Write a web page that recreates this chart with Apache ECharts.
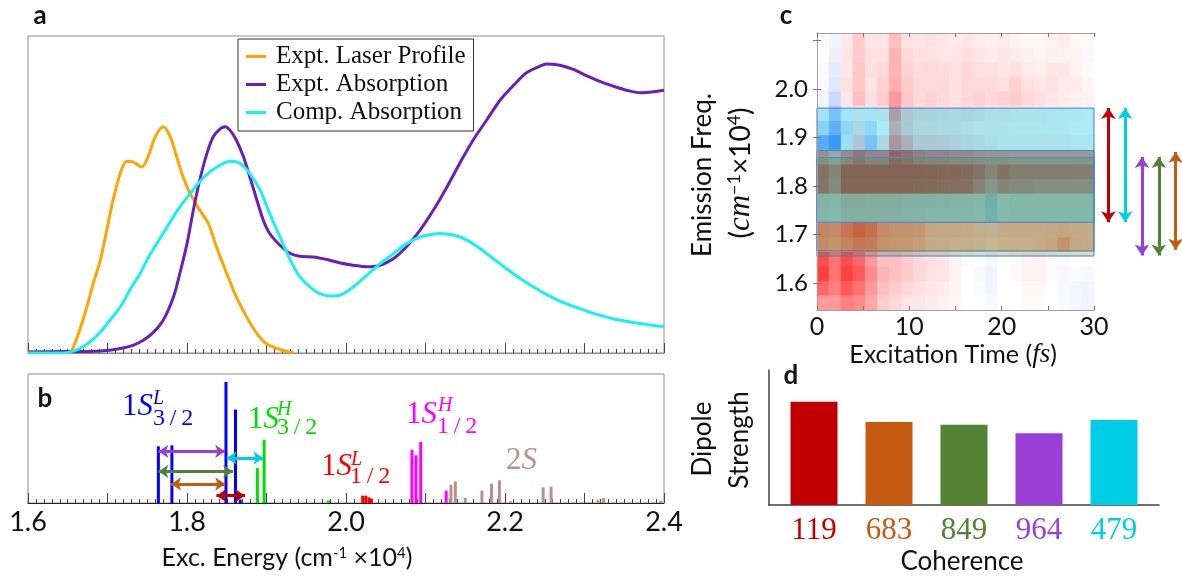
<!DOCTYPE html>
<html>
<head>
<meta charset="utf-8">
<title>Absorption, stick spectrum and coherence maps</title>
<script src="https://cdn.jsdelivr.net/npm/echarts@6.0.0/dist/echarts.min.js"></script>
<style>
html, body { margin: 0; padding: 0; background: #fff; }
#chart { width: 1182px; height: 578px; }
</style>
</head>
<body>
<div id="chart"></div>
<script>
// ---- panel a : spectra (energy in 1e4 cm-1, normalised intensity) ----
var laserE = [1.600, 1.650, 1.655, 1.665, 1.674, 1.682, 1.691, 1.699, 1.707, 1.716, 1.724, 1.732, 1.743, 1.751, 1.760, 1.770, 1.779, 1.787, 1.795, 1.804, 1.816, 1.827, 1.837, 1.850, 1.862, 1.875, 1.888, 1.900, 1.917, 1.934];
var laserI = [0.003, 0.003, 0.008, 0.072, 0.145, 0.219, 0.293, 0.387, 0.482, 0.566, 0.605, 0.603, 0.587, 0.619, 0.682, 0.714, 0.682, 0.619, 0.556, 0.503, 0.451, 0.408, 0.335, 0.251, 0.177, 0.114, 0.061, 0.029, 0.011, 0.000];

var absE = [1.600, 1.649, 1.674, 1.699, 1.716, 1.732, 1.745, 1.758, 1.770, 1.783, 1.791, 1.800, 1.808, 1.816, 1.825, 1.833, 1.842, 1.848, 1.854, 1.862, 1.871, 1.879, 1.888, 1.896, 1.904, 1.917, 1.930, 1.942, 1.959, 1.976, 1.993, 2.009, 2.026, 2.043, 2.060, 2.076, 2.093, 2.110, 2.127, 2.143, 2.160, 2.177, 2.194, 2.211, 2.227, 2.244, 2.252, 2.269, 2.286, 2.303, 2.320, 2.336, 2.353, 2.370, 2.387, 2.400];
var absI = [0.003, 0.005, 0.005, 0.008, 0.014, 0.024, 0.040, 0.066, 0.103, 0.177, 0.251, 0.345, 0.451, 0.545, 0.629, 0.682, 0.708, 0.714, 0.703, 0.672, 0.619, 0.556, 0.482, 0.419, 0.377, 0.340, 0.314, 0.305, 0.303, 0.295, 0.284, 0.277, 0.272, 0.277, 0.298, 0.335, 0.387, 0.451, 0.524, 0.598, 0.672, 0.735, 0.798, 0.845, 0.884, 0.905, 0.912, 0.908, 0.895, 0.874, 0.856, 0.842, 0.829, 0.821, 0.824, 0.829];

var compE = [1.600, 1.645, 1.653, 1.665, 1.678, 1.691, 1.703, 1.716, 1.728, 1.741, 1.753, 1.766, 1.779, 1.791, 1.804, 1.816, 1.829, 1.842, 1.854, 1.867, 1.879, 1.892, 1.904, 1.917, 1.930, 1.942, 1.955, 1.967, 1.980, 1.993, 2.009, 2.026, 2.043, 2.060, 2.076, 2.093, 2.110, 2.118, 2.135, 2.152, 2.169, 2.185, 2.202, 2.219, 2.236, 2.252, 2.269, 2.286, 2.303, 2.320, 2.336, 2.353, 2.370, 2.387, 2.400];
var compI = [0.000, 0.000, 0.003, 0.014, 0.035, 0.066, 0.103, 0.145, 0.198, 0.251, 0.308, 0.361, 0.414, 0.461, 0.503, 0.540, 0.572, 0.593, 0.605, 0.598, 0.566, 0.514, 0.440, 0.366, 0.293, 0.240, 0.208, 0.187, 0.180, 0.183, 0.208, 0.245, 0.282, 0.314, 0.345, 0.366, 0.375, 0.377, 0.372, 0.356, 0.329, 0.298, 0.266, 0.235, 0.208, 0.185, 0.164, 0.147, 0.132, 0.119, 0.108, 0.100, 0.093, 0.087, 0.084];

// ---- panel b : transitions [energy, dipole] ----
var sticks1S32L = [[1.764, 0.439], [1.781, 0.447], [1.849, 0.938], [1.861, 0.724], [1.867, 0.026]];
var sticks1S32H = [[1.8885, 0.271], [1.897, 0.491], [1.978, 0.020]];
var sticks1S12L = [[2.021, 0.057], [2.025, 0.057], [2.029, 0.044], [2.032, 0.034]];
var sticks1S12H = [[2.083, 0.413], [2.088, 0.370], [2.094, 0.473], [2.126, 0.096]];
var sticks2S = [[2.132, 0.142], [2.1375, 0.168], [2.150, 0.039], [2.171, 0.096], [2.183, 0.150], [2.193, 0.176], [2.207, 0.013], [2.248, 0.121], [2.258, 0.127], [2.304, 0.005], [2.317, 0.026], [2.324, 0.039], [2.396, 0.018]];

// coherences linking the transitions
var bArrowCoh = ['964', '479', '849', '683', '119'];
var bArrowLo = [1.764, 1.850, 1.764, 1.780, 1.837];
var bArrowHi = [1.848, 1.896, 1.858, 1.848, 1.873];
var bArrowLevel = [0.400, 0.349, 0.245, 0.147, 0.057];

// ---- panel c : 2D map, time bins (fs) x emission bins (1e4 cm-1) ----
var timeBins = ['0.7', '2.0', '3.3', '4.6', '5.9', '7.2', '8.5', '9.8', '11.1', '12.4', '13.7', '15.0', '16.3', '17.6', '18.9', '20.2', '21.5', '22.8', '24.1', '25.4', '26.7', '28.0', '29.3'];
var freqBins = ['1.56', '1.59', '1.62', '1.65', '1.68', '1.71', '1.74', '1.77', '1.80', '1.83', '1.86', '1.89', '1.92', '1.95', '1.98', '2.01', '2.04', '2.07', '2.10'];

var row156 = [0.40, 0.40, 0.50, 0.45, 0.35, 0.20, 0.15, 0.10, 0.10, 0.08, 0.05, 0.03, 0.00, 0.00, -0.03, 0.00, 0.00, 0.02, 0.02, 0.00, -0.02, -0.04, -0.06];
var row159 = [0.60, 0.50, 0.65, 0.55, 0.40, 0.25, 0.20, 0.15, 0.12, 0.10, 0.08, 0.05, 0.00, -0.02, -0.05, 0.00, 0.00, 0.03, 0.03, 0.00, -0.03, -0.04, -0.05];
var row162 = [0.75, 0.55, 0.75, 0.65, 0.45, 0.30, 0.25, 0.20, 0.15, 0.12, 0.10, 0.05, 0.00, -0.03, -0.06, 0.00, 0.02, 0.05, 0.05, 0.02, -0.03, -0.02, -0.03];
var row165 = [0.70, 0.55, 0.70, 0.60, 0.40, 0.25, 0.25, 0.20, 0.15, 0.12, 0.10, 0.05, 0.02, 0.00, -0.04, 0.00, 0.02, 0.05, 0.05, 0.02, -0.02, 0.00, 0.00];
var row168 = [0.35, 0.30, 0.40, 0.50, 0.45, 0.30, 0.25, 0.25, 0.20, 0.10, 0.10, 0.08, 0.08, 0.05, 0.00, 0.05, 0.08, 0.08, 0.10, 0.15, 0.30, 0.12, 0.10];
var row171 = [0.40, 0.35, 0.50, 0.65, 0.55, 0.35, 0.30, 0.30, 0.25, 0.15, 0.12, 0.12, 0.10, 0.08, -0.05, 0.10, 0.10, 0.10, 0.10, 0.12, 0.15, 0.10, 0.10];
var row174 = [0.02, 0.00, 0.10, 0.10, 0.10, 0.10, 0.10, 0.08, 0.08, 0.05, 0.05, 0.05, 0.03, 0.00, -0.15, 0.00, 0.02, 0.02, 0.02, 0.02, 0.02, 0.02, 0.02];
var row177 = [0.10, 0.05, 0.20, 0.20, 0.15, 0.15, 0.15, 0.12, 0.12, 0.10, 0.10, 0.08, 0.08, 0.05, -0.20, 0.00, 0.05, 0.05, 0.05, 0.05, 0.05, 0.05, 0.05];
var row180 = [0.80, 0.55, 0.95, 0.95, 0.95, 0.95, 0.95, 0.95, 0.92, 0.92, 0.90, 0.88, 0.85, 0.65, 0.40, 0.60, 0.55, 0.55, 0.50, 0.50, 0.50, 0.50, 0.50];
var row183 = [0.85, 0.60, 1.00, 1.00, 1.00, 1.00, 1.00, 1.00, 0.98, 0.98, 0.95, 0.95, 0.92, 0.80, 0.60, 0.85, 0.70, 0.70, 0.70, 0.70, 0.70, 0.68, 0.68];
var row186 = [0.50, 0.30, 0.55, 0.75, 0.60, 0.60, 0.90, 0.80, 0.65, 0.60, 0.60, 0.55, 0.55, 0.50, 0.45, 0.45, 0.40, 0.40, 0.40, 0.40, 0.40, 0.40, 0.40];
var row189 = [-0.50, -0.65, -0.10, 0.20, -0.30, 0.10, 0.50, 0.35, 0.20, 0.20, 0.18, 0.15, 0.12, 0.10, 0.08, 0.05, 0.05, 0.05, 0.05, 0.05, 0.05, 0.03, 0.03];
var row192 = [-0.20, -0.45, -0.15, 0.10, -0.15, 0.00, 0.35, 0.20, 0.12, 0.12, 0.10, 0.10, 0.08, 0.05, 0.05, 0.05, 0.03, 0.03, 0.03, 0.02, 0.02, 0.00, 0.00];
var row195 = [-0.05, -0.30, -0.05, 0.05, -0.05, 0.05, 0.45, 0.20, 0.15, 0.15, 0.12, 0.10, 0.12, 0.10, 0.08, 0.08, 0.05, 0.05, 0.05, 0.03, 0.03, 0.02, 0.00];
var row198 = [-0.05, -0.20, 0.10, 0.25, 0.12, 0.20, 0.40, 0.22, 0.15, 0.18, 0.15, 0.12, 0.15, 0.18, 0.15, 0.18, 0.20, 0.15, 0.12, 0.10, 0.08, 0.06, 0.05];
var row201 = [-0.03, -0.12, 0.12, 0.22, 0.10, 0.18, 0.32, 0.20, 0.15, 0.15, 0.15, 0.12, 0.15, 0.15, 0.15, 0.12, 0.18, 0.12, 0.10, 0.12, 0.08, 0.08, 0.04];
var row204 = [-0.02, -0.10, 0.10, 0.22, 0.12, 0.15, 0.30, 0.18, 0.14, 0.15, 0.14, 0.12, 0.15, 0.12, 0.12, 0.10, 0.12, 0.08, 0.06, 0.10, 0.10, 0.05, 0.02];
var row207 = [0.00, -0.08, 0.10, 0.20, 0.12, 0.12, 0.30, 0.15, 0.12, 0.12, 0.10, 0.10, 0.12, 0.10, 0.08, 0.10, 0.08, 0.06, 0.04, 0.06, 0.05, 0.05, -0.03];
var row210 = [0.02, -0.05, 0.08, 0.20, 0.10, 0.10, 0.25, 0.12, 0.10, 0.12, 0.10, 0.08, 0.10, 0.08, 0.06, 0.08, 0.05, 0.03, 0.03, 0.05, 0.08, 0.03, 0.02];

// emission windows of the coherences (orange, purple/green, red/cyan)
var bandLo = [1.6665, 1.6561, 1.7256];
var bandHi = [1.8732, 1.8586, 1.9605];

var cArrowCoh = ['119', '479', '964', '849', '683'];
var cArrowLo = [1.7256, 1.7256, 1.657, 1.657, 1.669];
var cArrowHi = [1.9605, 1.9605, 1.860, 1.860, 1.870];

// ---- panel d : dipole strength per coherence ----
var coherences = ['119', '683', '849', '964', '479'];
var dipole = [1.000, 0.803, 0.777, 0.694, 0.823];

// styles
var SANS = 'Lato, "Open Sans", sans-serif';
var SERIF = '"Liberation Serif", "Times New Roman", serif';
var cohColor = { '119': '#c00000', '683': '#c55a11', '849': '#548235', '964': '#9a3ed8', '479': '#00cde6' };
var bandFill = ['rgba(197,90,17,0.30)', 'rgba(84,130,53,0.27)', 'rgba(0,195,225,0.33)'];
var frameColor = '#8c8c8c';
var tickColor = '#444';

function pairs(xs, ys) {
  return xs.map(function (x, i) { return [x, ys[i]]; });
}

var stickData = [];
[[sticks1S32L, '#0000ff'], [sticks1S32H, '#00dd00'], [sticks1S12L, '#ff0000'], [sticks1S12H, '#ff00ff'], [sticks2S, '#bc8f8f']].forEach(function (g) {
  g[0].forEach(function (s) {
    stickData.push({ value: s, itemStyle: { color: g[1] } });
  });
});

var heatRows = [row156, row159, row162, row165, row168, row171, row174, row177, row180, row183, row186, row189, row192, row195, row198, row201, row204, row207, row210];
var heatData = [];
heatRows.forEach(function (row, r) {
  row.forEach(function (v, c) { heatData.push([c, r, v]); });
});

// text helpers
function label(x, y, text, size, extra) {
  var style = { text: text, fontSize: size, fontFamily: SANS, fill: '#111', align: 'center', verticalAlign: 'middle' };
  for (var k in extra) style[k] = extra[k];
  return { type: 'text', x: x, y: y, style: style, z: 20 };
}
function stateLabel(x, y, main, sup, sub, supX, supY, subX, subY, color) {
  return [
    label(x, y, '{u|' + main[0] + '}{i|' + main[1] + '}', 30, {
      align: 'left', fill: color,
      rich: { u: { fontFamily: SERIF, fontSize: 31, fill: color }, i: { fontFamily: SERIF, fontStyle: 'italic', fontSize: 31, fill: color } }
    }),
    sup ? label(supX, supY, sup, 20, { align: 'left', fontFamily: SERIF, fontStyle: 'italic', fill: color }) : null,
    sub ? label(subX, subY, sub.split('').join('\u2009'), 24, { align: 'left', fontFamily: SERIF, fill: color }) : null
  ].filter(Boolean);
}

var supRich = { s: { fontSize: 15, verticalAlign: 'top', fontFamily: SANS, fill: '#111' } };

var graphics = [
  label(40, 16, 'a', 26, { fontWeight: 'bold' }),
  label(45, 399, 'b', 26, { fontWeight: 'bold' }),
  label(786, 16, 'c', 26, { fontWeight: 'bold' }),
  label(791, 376, 'd', 26, { fontWeight: 'bold' }),
  label(287, 558, 'Exc. Energy (cm{s|-1} \u00d710{s|4})', 25, { rich: supRich }),
  label(953, 355, 'Excitation Time ({i|fs})', 25, {
    rich: { i: { fontFamily: SERIF, fontStyle: 'italic', fontSize: 27, fill: '#111' } }
  }),
  label(962, 562, 'Coherence', 26)
];
[
  [703, 175, 'Emission Freq.', 26, {}],
  [741, 173, '({i|cm}{s|\u22121}\u00d710{s|4})', 28, {
    rich: { i: { fontFamily: SERIF, fontStyle: 'italic', fontSize: 31, fill: '#111' }, s: { fontSize: 18, verticalAlign: 'top', fontFamily: SANS, fill: '#111' } }
  }],
  [703, 439, 'Dipole', 26, {}],
  [740, 440, 'Strength', 26, {}]
].forEach(function (t) {
  var g = label(t[0], t[1], t[2], t[3], t[4]);
  g.rotation = Math.PI / 2;
  graphics.push(g);
});
graphics = graphics
  .concat(stateLabel(122, 407, '1S', 'L', '3/2', 153, 399, 153, 419, '#0000ff'))
  .concat(stateLabel(248, 420, '1S', 'H', '3/2', 277, 410, 277, 428, '#00e000'))
  .concat(stateLabel(321, 467, '1S', 'L', '1/2', 351, 460, 350, 477, '#ff0000'))
  .concat(stateLabel(406, 415, '1S', 'H', '1/2', 438, 406, 437, 427, '#ff00ff'))
  .concat(stateLabel(506, 461, '2S', null, null, 0, 0, 0, 0, '#bc8f8f'));

var energyAxis = {
  type: 'value', min: 1.6, max: 2.4, interval: 0.1,
  axisLine: { show: true, lineStyle: { color: frameColor } },
  axisTick: { show: true, inside: true, length: 10, lineStyle: { color: tickColor } },
  minorTick: { show: true, splitNumber: 10, length: 4, lineStyle: { color: tickColor } },
  splitLine: { show: false }
};

var option = {
  animation: false,
  backgroundColor: '#fff',
  graphic: graphics,
  legend: {
    data: ['Expt. Laser Profile', 'Expt. Absorption', 'Comp. Absorption'],
    orient: 'vertical', left: 238, top: 39,
    backgroundColor: '#fff', borderColor: '#333', borderWidth: 1,
    padding: [5, 8, 6, 8], itemGap: 3, itemWidth: 20, itemHeight: 3, icon: 'rect',
    textStyle: { fontFamily: SERIF, fontSize: 25, color: '#111', lineHeight: 25, padding: [0, 0, 0, 5] }
  },
  visualMap: {
    show: false, seriesIndex: 5, min: -1, max: 1, dimension: 2,
    inRange: { color: ['#0040ff', '#ffffff', '#ff0000'] }
  },
  grid: [
    { left: 28, top: 36, width: 636, height: 317, show: true, borderColor: frameColor, borderWidth: 1, outerBoundsMode: 'none' },
    { left: 28, top: 374, width: 636, height: 129, show: true, borderColor: frameColor, borderWidth: 1, outerBoundsMode: 'none' },
    { left: 817, top: 33, width: 277, height: 277, outerBoundsMode: 'none' },
    { left: 817, top: 33, width: 277, height: 277, outerBoundsMode: 'none' },
    { left: 1100, top: 33, width: 84, height: 277, outerBoundsMode: 'none' },
    { left: 769, top: 370, width: 390, height: 135, outerBoundsMode: 'none' }
  ],
  xAxis: [
    // 0: panel a
    echarts.util.merge({ gridIndex: 0, axisLabel: { show: false } }, energyAxis),
    // 1: panel b
    echarts.util.merge({
      gridIndex: 1,
      axisLine: { lineStyle: { color: '#222' } },
      axisLabel: {
        show: true, margin: 6, fontFamily: SANS, fontSize: 27, color: '#111',
        formatter: function (v) { var k = Math.round(v * 10); return k % 2 === 0 ? (k / 10).toFixed(1) : ''; }
      }
    }, energyAxis),
    // 2: heatmap cells
    { gridIndex: 2, type: 'category', data: timeBins, show: false },
    // 3, 4: heatmap frame bottom / top
    {
      gridIndex: 3, type: 'value', min: 0, max: 30, interval: 5, z: 10,
      axisLine: { show: true, lineStyle: { color: '#a0a0a0' } },
      axisTick: { show: true, inside: true, length: 4, lineStyle: { color: '#777' } },
      axisLabel: {
        show: true, margin: 4, fontFamily: SANS, fontSize: 25, color: '#111',
        formatter: function (v) { return v % 10 === 0 ? String(v) : ''; }
      },
      splitLine: { show: false }
    },
    {
      gridIndex: 3, type: 'value', position: 'top', min: 0, max: 30, interval: 5, z: 10,
      axisLine: { show: true, lineStyle: { color: '#a0a0a0' } },
      axisTick: { show: true, inside: true, length: 4, lineStyle: { color: '#777' } },
      axisLabel: { show: false }, splitLine: { show: false }
    },
    // 5: arrows beside the map
    { gridIndex: 4, type: 'category', data: cArrowCoh, show: false },
    // 6: panel d
    {
      gridIndex: 5, type: 'value', min: 0.4, max: 5.6,
      axisLine: { show: true, lineStyle: { color: '#404040', width: 1.5 } },
      axisTick: { show: false },
      axisLabel: {
        show: true, customValues: [1, 2, 3, 4, 5], margin: 10,
        fontFamily: SERIF, fontSize: 31,
        formatter: function (v) { return coherences[Math.round(v) - 1]; },
        color: function (v) { return cohColor[coherences[Math.round(v) - 1]]; }
      },
      splitLine: { show: false }
    }
  ],
  yAxis: [
    { gridIndex: 0, type: 'value', min: 0, max: 1, show: false, splitLine: { show: false } },
    { gridIndex: 1, type: 'value', min: 0, max: 1, show: false, splitLine: { show: false } },
    { gridIndex: 2, type: 'category', data: freqBins, show: false },
    {
      gridIndex: 3, type: 'value', min: 1.545, max: 2.115, z: 10,
      axisLine: { show: true, lineStyle: { color: '#a0a0a0' } },
      axisTick: { show: true, inside: true, length: 4, customValues: [1.6, 1.7, 1.8, 1.9, 2.0, 2.1], lineStyle: { color: '#777' } },
      axisLabel: {
        show: true, customValues: [1.6, 1.7, 1.8, 1.9, 2.0], margin: 9,
        fontFamily: SANS, fontSize: 24, color: '#111',
        formatter: function (v) { return v.toFixed(1); }
      },
      splitLine: { show: false }
    },
    {
      gridIndex: 3, type: 'value', position: 'right', min: 1.545, max: 2.115, z: 10,
      axisLine: { show: true, lineStyle: { color: '#a0a0a0' } },
      axisTick: { show: true, inside: true, length: 4, customValues: [1.6, 1.7, 1.8, 1.9, 2.0, 2.1], lineStyle: { color: '#777' } },
      axisLabel: { show: false }, splitLine: { show: false }
    },
    { gridIndex: 4, type: 'value', min: 1.545, max: 2.115, show: false, splitLine: { show: false } },
    {
      gridIndex: 5, type: 'value', min: 0, max: 1.307,
      axisLine: { show: true, lineStyle: { color: '#404040', width: 1.5 } },
      axisTick: { show: false }, axisLabel: { show: false }, splitLine: { show: false }
    }
  ],
  series: [
    {
      name: 'Expt. Laser Profile', type: 'line', xAxisIndex: 0, yAxisIndex: 0,
      data: pairs(laserE, laserI), showSymbol: false, smooth: 0.3,
      color: '#ffa500', lineStyle: { width: 3 }
    },
    {
      name: 'Expt. Absorption', type: 'line', xAxisIndex: 0, yAxisIndex: 0,
      data: pairs(absE, absI), showSymbol: false, smooth: 0.3,
      color: '#6a1fb5', lineStyle: { width: 3 }
    },
    {
      name: 'Comp. Absorption', type: 'line', xAxisIndex: 0, yAxisIndex: 0,
      data: pairs(compE, compI), showSymbol: false, smooth: 0.3,
      color: '#19f0f0', lineStyle: { width: 3 }
    },
    {
      type: 'bar', xAxisIndex: 1, yAxisIndex: 1, barWidth: 3, data: stickData
    },
    {
      type: 'lines', coordinateSystem: 'cartesian2d', xAxisIndex: 1, yAxisIndex: 1, z: 4,
      symbol: ['arrow', 'arrow'], symbolSize: 10,
      lineStyle: { width: 3, opacity: 1 },
      data: bArrowCoh.map(function (c, i) {
        return { coords: [[bArrowLo[i], bArrowLevel[i]], [bArrowHi[i], bArrowLevel[i]]], lineStyle: { color: cohColor[c] } };
      })
    },
    {
      type: 'heatmap', xAxisIndex: 2, yAxisIndex: 2, data: heatData,
      itemStyle: { borderWidth: 0 }, emphasis: { disabled: true }, progressive: 0
    },
    {
      type: 'custom', xAxisIndex: 3, yAxisIndex: 3, z: 5, silent: true,
      data: bandLo.map(function (lo, i) { return [lo, bandHi[i], i]; }),
      renderItem: function (params, api) {
        var p0 = api.coord([0, api.value(1)]);
        var p1 = api.coord([30, api.value(0)]);
        return {
          type: 'rect',
          shape: { x: p0[0], y: p0[1], width: p1[0] - p0[0], height: p1[1] - p0[1] },
          style: { fill: bandFill[api.value(2)], stroke: '#4a7bd6', lineWidth: 1 }
        };
      }
    },
    {
      type: 'lines', coordinateSystem: 'cartesian2d', xAxisIndex: 5, yAxisIndex: 5, z: 4,
      symbol: ['arrow', 'arrow'], symbolSize: 11,
      lineStyle: { width: 3, opacity: 1 },
      data: cArrowCoh.map(function (c, i) {
        return { coords: [[i, cArrowLo[i]], [i, cArrowHi[i]]], lineStyle: { color: cohColor[c] } };
      })
    },
    {
      type: 'bar', xAxisIndex: 6, yAxisIndex: 6, barWidth: 47,
      data: dipole.map(function (v, i) {
        return { value: [i + 1, v], itemStyle: { color: cohColor[coherences[i]] } };
      })
    }
  ]
};

var chart = echarts.init(document.getElementById('chart'));
chart.setOption(option);
</script>
</body>
</html>
